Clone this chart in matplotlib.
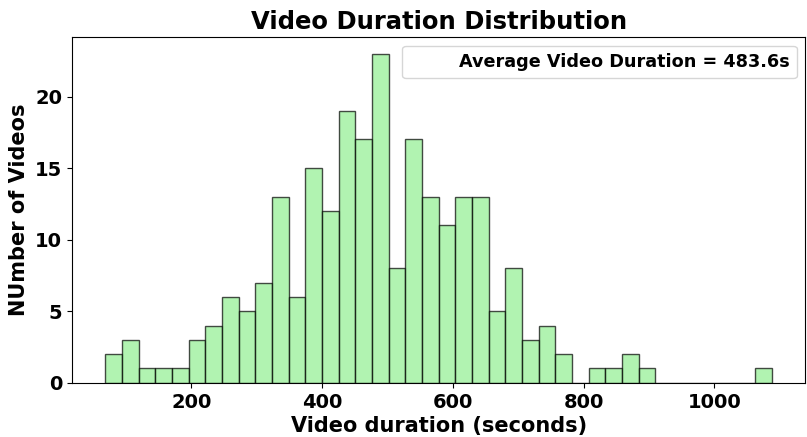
import numpy as np
import matplotlib
matplotlib.use('Agg')
import matplotlib.pyplot as plt
from matplotlib.lines import Line2D

# histogram of video durations: 40 equal-width bins
bin_lo = 68.0
bin_hi = 1088.5
counts = [2, 3, 1, 1, 1, 3, 4, 6, 5, 7,
          13, 6, 15, 12, 19, 17, 23, 8, 17, 13,
          11, 13, 13, 5, 8, 3, 4, 2, 0, 1,
          1, 2, 1, 0, 0, 0, 0, 0, 0, 1]
avg_duration = 483.6

edges = np.linspace(bin_lo, bin_hi, len(counts) + 1)
centers = (edges[:-1] + edges[1:]) / 2

fig, ax = plt.subplots(figsize=(8.07, 4.37), dpi=100)
fig.subplots_adjust(left=0.089, right=0.998, top=0.915, bottom=0.124)

ax.hist(centers, bins=edges, weights=counts, color='lightgreen',
        edgecolor='black', alpha=0.7)

handle = Line2D([], [], color='none')
ax.legend([handle], [f'Average Video Duration = {avg_duration}s'],
          loc='upper right', prop={'weight': 'bold', 'size': 12.7})

ax.set_title('Video Duration Distribution', fontsize=17.5, fontweight='bold')
ax.set_xlabel('Video duration (seconds)', fontsize=15, fontweight='bold', labelpad=3)
ax.set_ylabel('NUmber of Videos', fontsize=15, fontweight='bold')
ax.set_xticks([200, 400, 600, 800, 1000])
ax.set_yticks([0, 5, 10, 15, 20])
for lbl in ax.get_xticklabels() + ax.get_yticklabels():
    lbl.set_fontweight('bold')
    lbl.set_fontsize(14)

plt.savefig('out.png')
